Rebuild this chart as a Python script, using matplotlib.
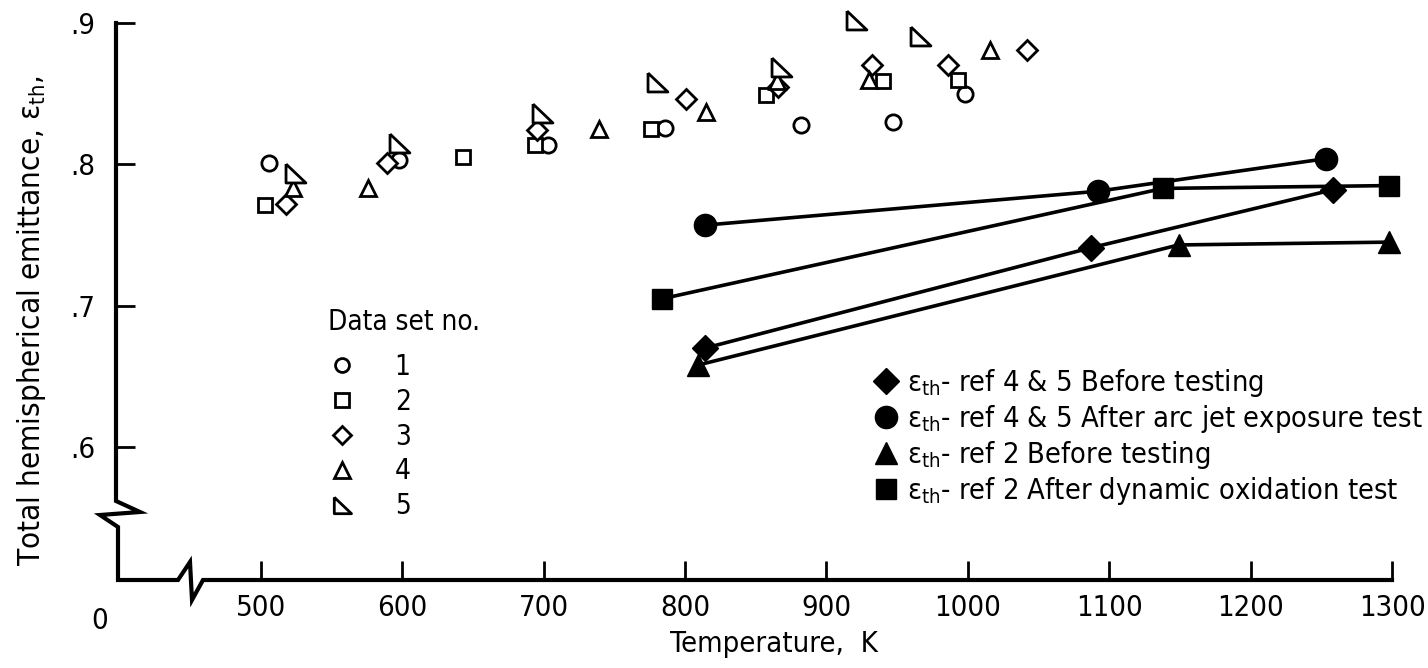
import matplotlib.pyplot as plt
from matplotlib.lines import Line2D

plt.rcParams['font.family'] = ['DejaVu Sans']
plt.rcParams['font.stretch'] = 'condensed'
plt.rcParams['mathtext.fontset'] = 'custom'
plt.rcParams['mathtext.rm'] = 'DejaVu Sans:stretch=condensed'
plt.rcParams['mathtext.it'] = 'DejaVu Sans:stretch=condensed'

# open symbols, data sets 1-5 (temperature K, emittance)
set1_t = [506, 598, 703, 786, 882, 947, 998]
set1_e = [0.801, 0.803, 0.814, 0.826, 0.828, 0.830, 0.850]
set2_t = [503, 643, 694, 776, 857, 940, 993]
set2_e = [0.771, 0.805, 0.814, 0.825, 0.849, 0.859, 0.860]
set3_t = [518, 589, 695, 801, 866, 932, 986, 1042]
set3_e = [0.772, 0.801, 0.824, 0.846, 0.855, 0.870, 0.870, 0.881]
set4_t = [523, 576, 739, 815, 865, 930, 1016]
set4_e = [0.783, 0.783, 0.825, 0.837, 0.859, 0.860, 0.881]
set5_t = [524, 598, 699, 780, 868, 921, 966]
set5_e = [0.794, 0.815, 0.836, 0.858, 0.869, 0.902, 0.891]

# filled symbols joined by lines
ref45_before_t = [814, 1087, 1258]
ref45_before_e = [0.670, 0.741, 0.782]
ref45_after_t = [814, 1092, 1253]
ref45_after_e = [0.757, 0.781, 0.804]
ref2_before_t = [809, 1149, 1298]
ref2_before_e = [0.658, 0.743, 0.745]
ref2_after_t = [784, 1138, 1298]
ref2_after_e = [0.705, 0.783, 0.785]

xticks = [500, 600, 700, 800, 900, 1000, 1100, 1200, 1300]
yticks = [0.6, 0.7, 0.8, 0.9]
yticklabels = ['.6', '.7', '.8', '.9']

rtri = [(-1, 1), (-1, -1), (1.1, -1), (-1, 1)]

W, H = 1428, 668
fig = plt.figure(figsize=(W / 100, H / 100), dpi=100)
L, R, T, B = 116, 1392, 23, 580
ax = fig.add_axes([L / W, 1 - B / H, (R - L) / W, (B - T) / H])
ax.set_xlim(397.5, 1300)
ax.set_ylim(0.506, 0.9)
for s in ax.spines.values():
    s.set_visible(False)


def px(x, y):
    return (x - L) / (R - L), (B - y) / (B - T)


# broken axes
frame = [(116, 23), (116, 501), (140, 512), (100, 515), (118, 527), (118, 580),
         (178, 580), (190, 562), (192, 600), (203, 580), (1392, 580)]
fx, fy = zip(*[px(x, y) for x, y in frame])
ax.plot(fx, fy, color='black', lw=3, transform=ax.transAxes, clip_on=False,
        solid_joinstyle='miter')

ax.set_xticks(xticks)
ax.set_xticklabels([str(t) for t in xticks])
ax.set_yticks(yticks)
ax.set_yticklabels(yticklabels)
ax.tick_params(direction='in', length=14, width=2, labelsize=21)
ax.tick_params(axis='x', pad=10)
ax.tick_params(axis='y', pad=15)
ax.text(*px(100, 621), '0', transform=ax.transAxes, ha='center', va='center',
        fontsize=21)

ax.set_xlabel('Temperature,  K', fontsize=21)
ax.xaxis.set_label_coords(*px(774, 630))
ax.set_ylabel(r'Total hemispherical emittance, $ε_{\mathrm{th}}$,', fontsize=22.5)
ax.yaxis.set_label_coords(*px(48, 321))

mk = dict(ls='none', mfc='white', mec='black', mew=2, clip_on=False)
h1, = ax.plot(set1_t, set1_e, marker='o', ms=11, **mk)
h2, = ax.plot(set2_t, set2_e, marker='s', ms=10.5, **mk)
h3, = ax.plot(set3_t, set3_e, marker='D', ms=10.5, **mk)
h4, = ax.plot(set4_t, set4_e, marker='^', ms=12, **mk)
h5, = ax.plot(set5_t, set5_e, marker=rtri, ms=15, **mk)

ln = dict(color='black', lw=2.6, clip_on=False)
f1, = ax.plot(ref45_before_t, ref45_before_e, marker='D', ms=13, **ln)
f2, = ax.plot(ref45_after_t, ref45_after_e, marker='o', ms=16, **ln)
f3, = ax.plot(ref2_before_t, ref2_before_e, marker='^', ms=16, **ln)
f4, = ax.plot(ref2_after_t, ref2_after_e, marker='s', ms=14, **ln)

# legend for open symbols
hs = [Line2D([], [], ls='none', marker=m, ms=s, mfc='white', mec='black', mew=2)
      for m, s in [('o', 10), ('s', 9.5), ('D', 9.5), ('^', 11), (rtri, 13)]]
leg1 = ax.legend(hs, ['1', '2', '3', '4', '5'], title='Data set no.',
                 loc='upper left', bbox_to_anchor=px(328, 308),
                 bbox_transform=ax.transAxes, frameon=False, fontsize=20,
                 title_fontsize=20, alignment='left', borderpad=0,
                 borderaxespad=0, handlelength=1.0, handletextpad=1.4,
                 labelspacing=0.25)
leg1._legend_box.sep = 12
ax.add_artist(leg1)

# legend for filled symbols
hf = [Line2D([], [], ls='none', marker=m, ms=s, color='black')
      for m, s in [('D', 13), ('o', 16), ('^', 16), ('s', 14)]]
labels = [r'$ε_{\mathrm{th}}$- ref 4 & 5 Before testing',
          r'$ε_{\mathrm{th}}$- ref 4 & 5 After arc jet exposure test',
          r'$ε_{\mathrm{th}}$- ref 2 Before testing',
          r'$ε_{\mathrm{th}}$- ref 2 After dynamic oxidation test']
ax.legend(hf, labels, loc='upper left', bbox_to_anchor=px(872, 367),
          bbox_transform=ax.transAxes, frameon=False, fontsize=20.8,
          borderpad=0, borderaxespad=0, handlelength=1.0, handletextpad=0.2,
          labelspacing=0.14)

fig.savefig('out.png', dpi=100)
